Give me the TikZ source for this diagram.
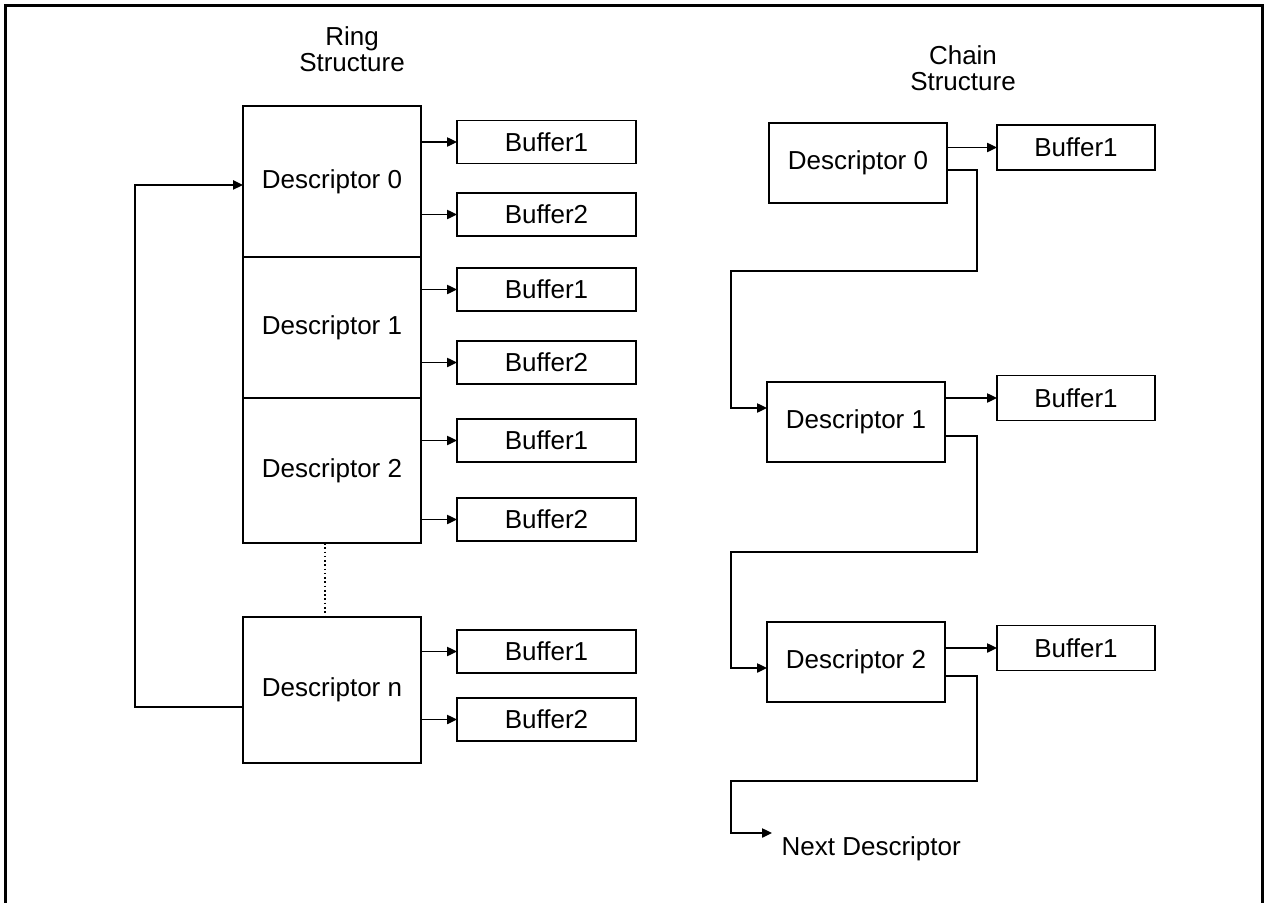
\documentclass[tikz,border=0pt]{standalone}
\usepackage{fontspec}
\setmainfont{Liberation Sans}
\usetikzlibrary{arrows.meta}
\begin{document}
\begin{tikzpicture}[x=0.75pt,y=-0.75pt,
  font=\fontsize{19.5pt}{23pt}\selectfont,
  line width=1pt,
  desc/.style={draw,inner sep=0pt,outer sep=0pt,minimum width=178*0.75pt},
  buf/.style={draw,inner sep=0pt,outer sep=0pt,minimum width=179*0.75pt,minimum height=43*0.75pt},
  cbuf/.style={draw,inner sep=0pt,outer sep=0pt,minimum width=158*0.75pt,minimum height=45*0.75pt},
  lbl/.style={align=center,inner sep=0pt,font=\fontsize{19.5pt}{19.5pt}\selectfont},
  arr/.style={-{Triangle[length=7.5pt,width=7pt]}}]
\clip (0,0) rectangle (1268,903);
% frame
\draw[line width=1.9pt] (5.5,1000) -- (5.5,5.5) -- (1262.5,5.5) -- (1262.5,1000);

% ring structure
\node[lbl] (rt) at (352,49) {Ring\\Structure};
\node[desc,minimum height=151*0.75pt] (d0) at (332,181.5) {Descriptor 0};
\node[desc,minimum height=141*0.75pt] (d1) at (332,327.5) {Descriptor 1};
\node[desc,minimum height=145*0.75pt] (d2) at (332,470.5) {Descriptor 2};
\node[desc,minimum height=146*0.75pt] (dn) at (332,690) {Descriptor n};
\draw[dotted,line width=1.2pt] (d2.south -| 325,0) -- (dn.north -| 325,0);

\node[buf] (b01) at (546.5,142) {Buffer1};
\node[buf] (b02) at (546.5,214.5) {Buffer2};
\node[buf] (b11) at (546.5,289.5) {Buffer1};
\node[buf] (b12) at (546.5,362.5) {Buffer2};
\node[buf] (b21) at (546.5,440.5) {Buffer1};
\node[buf] (b22) at (546.5,519.5) {Buffer2};
\node[buf] (bn1) at (546.5,651.5) {Buffer1};
\node[buf] (bn2) at (546.5,719.5) {Buffer2};

\foreach \d/\b in {d0/b01,d0/b02,d1/b11,d1/b12,d2/b21,d2/b22,dn/bn1,dn/bn2}
  \draw[arr] (\b.west -| \d.east) -- (\b.west);

\coordinate (lp) at (135,707);
\draw[arr] (dn.west |- lp) -- (lp) |- ([yshift=-2.6pt]d0.west);

% chain structure
\node[lbl] (ct) at (963,68) {Chain\\Structure};
\node[desc,minimum height=80*0.75pt] (c0) at (858,163) {Descriptor 0};
\node[desc,minimum height=80*0.75pt] (c1) at (856,422) {Descriptor 1};
\node[desc,minimum height=80*0.75pt] (c2) at (856,662) {Descriptor 2};
\node[cbuf] (cb0) at (1076,147.5) {Buffer1};
\node[cbuf] (cb1) at (1076,398) {Buffer1};
\node[cbuf] (cb2) at (1076,648) {Buffer1};

\draw[arr] (cb0.west -| c0.east) -- (cb0.west);
\draw[arr] (cb1.west -| c1.east) -- (cb1.west);
\draw[arr] (cb2.west -| c2.east) -- (cb2.west);

\draw[arr] ([yshift=-5.25pt]c0.east) -- (977,170) -- (977,271) -- (731,271) |- ([yshift=10.5pt]c1.west);
\draw[arr] ([yshift=-10.5pt]c1.east) -- (977,436) -- (977,552) -- (731,552) |- ([yshift=-4.5pt]c2.west);

\coordinate (nd) at (772,833);
\node[anchor=west,inner sep=0pt] (ndt) at (781,849) {Next Descriptor};
\draw[arr] ([yshift=-10.5pt]c2.east) -- (977,676) -- (977,781) -- (731,781) |- (nd);
\end{tikzpicture}
\end{document}
